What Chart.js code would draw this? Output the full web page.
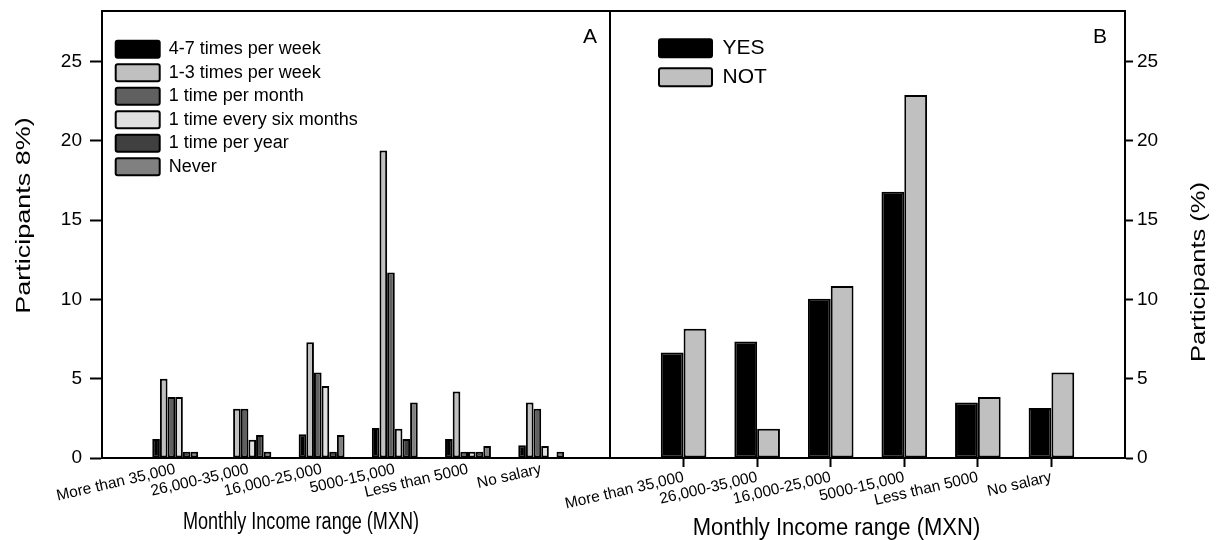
<!DOCTYPE html>
<html>
<head>
<meta charset="utf-8">
<title>Monthly income range</title>
<script src="https://cdn.jsdelivr.net/npm/chart.js@4.4.1/dist/chart.umd.min.js"></script>
<style>
  html, body { margin: 0; padding: 0; background: #fff; }
  #wrap { position: relative; width: 1220px; height: 540px; overflow: hidden; }
  canvas { position: absolute; top: 0; }
  #chartA { left: 0; }
  #chartB { left: 520px; }
</style>
</head>
<body>
<div id="wrap">
  <canvas id="chartA" width="620" height="540"></canvas>
  <canvas id="chartB" width="700" height="540"></canvas>
</div>
<script>
/* ================= DATA ================= */
const categories = ["More than 35,000", "26,000-35,000", "16,000-25,000", "5000-15,000", "Less than 5000", "No salary"];
const yTicks = [0, 5, 10, 15, 20, 25];

// panel A - frequency (%)
const freqLabels = ["4-7 times per week", "1-3 times per week", "1 time per month", "1 time every six months", "1 time per year", "Never"];
const week47 = [1.2, 0, 1.5, 1.9, 1.2, 0.8];
const week13 = [5.0, 3.1, 7.3, 19.4, 4.2, 3.5];
const month1 = [3.85, 3.1, 5.4, 11.7, 0.4, 3.1];
const sixMonths = [3.85, 1.15, 4.55, 1.85, 0.4, 0.75];
const year1 = [0.4, 1.45, 0.4, 1.2, 0.4, 0];
const never = [0.4, 0.4, 1.45, 3.5, 0.75, 0.4];

// panel B - yes / not (%)
const yesVals = [6.65, 7.35, 10.05, 16.8, 3.5, 3.15];
const notVals = [8.15, 1.85, 10.85, 22.9, 3.85, 5.4];

const FONT = "'Liberation Sans', Arial, sans-serif";
const LINE = 2;

Chart.defaults.font.family = FONT;
Chart.defaults.color = "#000";

const toPoints = arr => arr.map((v, i) => ({ x: i + 1, y: v }));

function drawText(ctx, txt, x, y, size, sx, rot, align, baseline) {
  ctx.save();
  ctx.translate(x, y);
  ctx.scale(sx, 1);
  ctx.rotate(rot);
  ctx.font = size + "px " + FONT;
  ctx.fillStyle = "#000";
  ctx.textAlign = align;
  ctx.textBaseline = baseline;
  ctx.fillText(txt, 0, 0);
  ctx.restore();
}

/* frame, panel letter, axis titles, legend placement */
function decor(cfg) {
  return {
    id: "decor",
    afterLayout(chart) {
      const lg = chart.legend;
      lg.left = cfg.legendLeft;
      lg.top = cfg.legendTop;
      lg.right = lg.left + lg.width;
      lg.bottom = lg.top + lg.height;
    },
    afterDraw(chart) {
      const ctx = chart.ctx;
      const a = chart.chartArea;
      ctx.save();
      ctx.strokeStyle = "#000";
      ctx.lineWidth = LINE;
      ctx.strokeRect(a.left, a.top, a.right - a.left, a.bottom - a.top);
      ctx.restore();
      drawText(ctx, cfg.letter, cfg.letterX, 43, 21, 1, 0, "right", "alphabetic");
      drawText(ctx, cfg.yTitle, cfg.yTitleX, cfg.yTitleY, cfg.yTitleSize, 0.78, -Math.PI / 2, "center", "middle");
      drawText(ctx, "Monthly Income range (MXN)", cfg.xTitleX, cfg.xTitleY, 23, cfg.xTitleSx, 0, "center", "alphabetic");
    }
  };
}

function xAxis(max, tickLen, pad) {
  return {
    type: "linear",
    min: 0,
    max: max,
    offset: false,
    afterBuildTicks: s => { s.ticks = categories.map((c, i) => ({ value: i + 1 })); },
    afterFit: s => { s.height = 82; s.paddingLeft = 0; s.paddingRight = 0; },
    grid: { offset: false, drawOnChartArea: false, drawTicks: tickLen > 0, tickLength: tickLen, tickColor: "#000", tickWidth: LINE },
    border: { color: "#000", width: LINE },
    ticks: {
      autoSkip: false,
      minRotation: 13,
      maxRotation: 13,
      padding: pad,
      color: "#000",
      font: { size: 15.5 },
      callback: v => categories[v - 1] ?? ""
    }
  };
}

function yAxis(pos, width, tickLen, pad) {
  return {
    position: pos,
    min: 0,
    max: 28.2,
    afterBuildTicks: s => { s.ticks = yTicks.map(v => ({ value: v })); },
    afterFit: s => { s.width = width; s.paddingTop = 0; s.paddingBottom = 0; },
    grid: { drawOnChartArea: false, drawTicks: true, tickLength: tickLen, tickColor: "#000", tickWidth: LINE },
    border: { color: "#000", width: LINE },
    ticks: { padding: pad, color: "#000", font: { size: 19 } }
  };
}

/* ================= PANEL A ================= */
const freqSeries = [week47, week13, month1, sixMonths, year1, never];
const freqColors = ["#000000", "#c0c0c0", "#606060", "#e0e0e0", "#404040", "#808080"];

new Chart(document.getElementById("chartA"), {
  type: "bar",
  data: {
    datasets: freqSeries.map((vals, i) => ({
      label: freqLabels[i],
      data: toPoints(vals),
      backgroundColor: freqColors[i],
      borderColor: "#000",
      borderWidth: LINE,
      borderSkipped: false
    }))
  },
  options: {
    responsive: false,
    animation: false,
    layout: { padding: { top: 11, left: 0, right: 10, bottom: 0 } },
    datasets: { bar: { categoryPercentage: 0.627, barPercentage: 1 } },
    plugins: {
      legend: {
        position: "chartArea",
        align: "start",
        labels: { boxWidth: 44, boxHeight: 17, padding: 5.5, color: "#000", font: { size: 18 }, useBorderRadius: true, borderRadius: 2 }
      },
      tooltip: { enabled: false }
    },
    scales: {
      x: xAxis(6.94, 0, 2),
      y: yAxis("left", 102, 12, 8)
    }
  },
  plugins: [decor({
    legendLeft: 110.2, legendTop: 34.7,
    letter: "A", letterX: 597,
    yTitle: "Participants 8%)", yTitleX: 24, yTitleY: 215.5, yTitleSize: 27,
    xTitleX: 301, xTitleY: 529, xTitleSx: 0.786
  })]
});

/* ================= PANEL B ================= */
new Chart(document.getElementById("chartB"), {
  type: "bar",
  data: {
    datasets: [
      { label: "YES", data: toPoints(yesVals), backgroundColor: "#000000", borderColor: "#000", borderWidth: LINE, borderSkipped: false },
      { label: "NOT", data: toPoints(notVals), backgroundColor: "#c0c0c0", borderColor: "#000", borderWidth: LINE, borderSkipped: false }
    ]
  },
  options: {
    responsive: false,
    animation: false,
    layout: { padding: { top: 11, left: 90, right: 0, bottom: 0 } },
    datasets: { bar: { categoryPercentage: 0.62, barPercentage: 1 } },
    plugins: {
      legend: {
        position: "chartArea",
        align: "start",
        labels: { boxWidth: 53, boxHeight: 18, padding: 8, color: "#000", font: { size: 21 }, useBorderRadius: true, borderRadius: 2 }
      },
      tooltip: { enabled: false }
    },
    scales: {
      x: xAxis(7, 9, 1),
      y: yAxis("right", 95, 8, 4)
    }
  },
  plugins: [decor({
    legendLeft: 131, legendTop: 29.8,
    letter: "B", letterX: 587,
    yTitle: "Participants (%)", yTitleX: 680, yTitleY: 272, yTitleSize: 25.5,
    xTitleX: 316.5, xTitleY: 535, xTitleSx: 0.957
  })]
});
</script>
</body>
</html>
